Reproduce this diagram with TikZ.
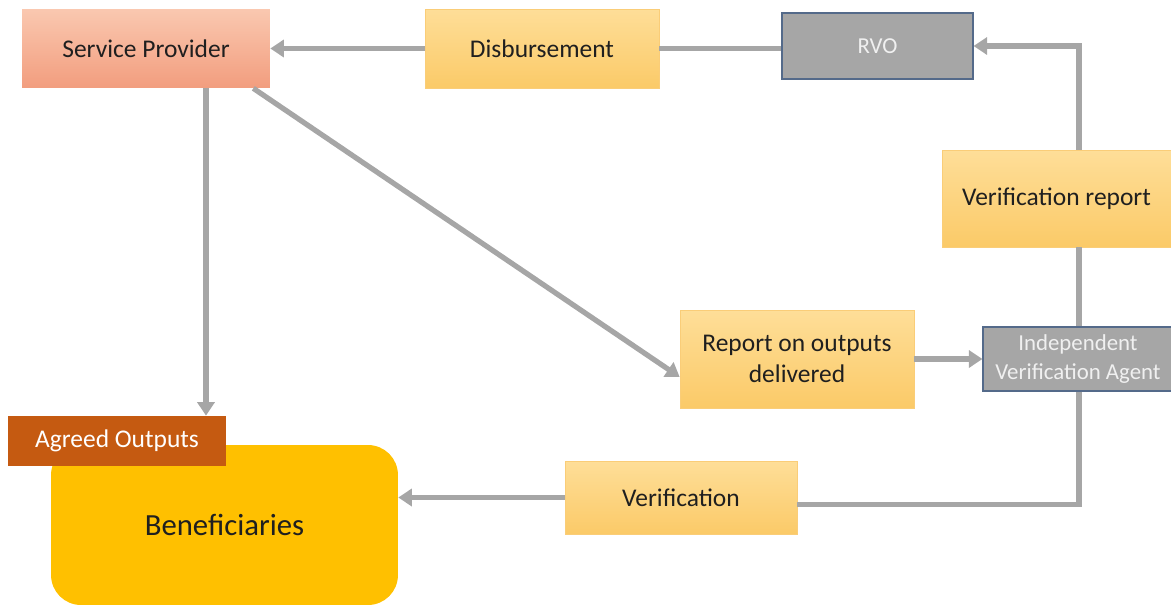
\documentclass[tikz,border=0pt]{standalone}
\usepackage{fontspec}
\setmainfont{Carlito}
\usetikzlibrary{arrows.meta,calc,positioning}
\definecolor{salmontop}{RGB}{250,200,176}
\definecolor{salmonbot}{RGB}{242,157,126}
\definecolor{paletop}{RGB}{254,222,152}
\definecolor{palebot}{RGB}{251,202,104}
\definecolor{paleedge}{RGB}{250,205,120}
\definecolor{agentgray}{RGB}{166,166,166}
\definecolor{agentedge}{RGB}{84,106,138}
\definecolor{flowgray}{RGB}{166,166,166}
\definecolor{benefill}{RGB}{255,192,0}
\definecolor{agreedfill}{RGB}{197,90,17}

\begin{document}
\begin{tikzpicture}[x=0.02cm, y=-0.02cm,
  txt/.style={font=\fontsize{14.5}{17.6}\selectfont, text=black!88, align=center},
  provider/.style={txt, top color=salmontop, bottom color=salmonbot},
  step box/.style={txt, draw=paleedge, line width=0.4pt, top color=paletop, bottom color=palebot},
  agent/.style={font=\fontsize{13}{16}\selectfont, text=white!94!black, align=center, fill=agentgray, draw=agentedge, line width=0.7pt},
  flow/.style={draw=flowgray, line width=0.105cm},
  arr/.style={flow, -{Triangle[width=0.34cm,length=0.27cm]}}]
\useasboundingbox (0,0) rectangle (1171,606);

% the boxes
\node[provider, minimum width=4.96cm, minimum height=1.58cm] (sp) at (146,48.5) {Service Provider};
\node[step box, minimum width=4.68cm, minimum height=1.58cm] (disb) at (542,48.5) {Disbursement};
\node[agent, minimum width=3.82cm, minimum height=1.32cm] (rvo) at (877.5,46) {RVO};
\node[step box, minimum width=4.58cm, minimum height=1.94cm] (vrep) at (1056.5,198.5) {Verification report};
\node[step box, minimum width=4.68cm, minimum height=1.96cm] (rop) at (797,359) {Report on outputs\\delivered};
\node[agent, minimum width=3.80cm, minimum height=1.28cm] (iva) at (1078,359) {Independent\\Verification Agent};
\node[step box, minimum width=4.64cm, minimum height=1.46cm] (verif) at (681,497.5) {Verification};
\node[txt, font=\fontsize{17.5}{21}\selectfont, fill=benefill, rounded corners=0.6cm,
      minimum width=6.94cm, minimum height=3.2cm] (ben) at (224.5,525) {Beneficiaries};
\node[txt, text=white, fill=agreedfill, minimum width=4.36cm, minimum height=1.0cm] (ao) at (117,441) {Agreed Outputs};

\coordinate (rail) at (1079,0); % right hand vertical line

% the flows
\draw[arr] (disb) -- (sp);
\draw[flow] (disb.east) -- (disb.east -| rvo.west);
\draw[arr] (vrep.north -| rail) |- (rvo.east);
\draw[flow] (vrep.south -| rail) -- (iva.north -| rail);
\draw[arr] ([xshift=1.2cm]sp.south) -- ([xshift=1.2cm]sp.south |- ao.north);
\draw[arr] ([xshift=-0.34cm]sp.south east) -- ([yshift=-0.36cm]rop.west);
\draw[arr] (rop) -- (iva);
\draw[flow] (iva.south -| rail) |- ([yshift=-0.14cm]verif.east);
\draw[arr] (verif.west) -- (verif.west -| ben.east);
\end{tikzpicture}
\end{document}
